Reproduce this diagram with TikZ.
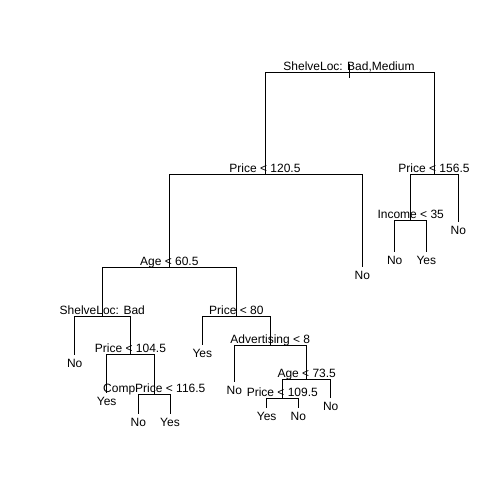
\documentclass[tikz,border=0pt]{standalone}
\usepackage{fontspec}
\setmainfont{Liberation Sans}

\begin{document}
\begin{tikzpicture}[x=1pt, y=-1pt, line width=0.9pt,
    font=\fontsize{12}{14}\selectfont,
    split/.style={anchor=base, inner sep=0pt, yshift=2pt},
    leaf/.style={anchor=base, inner sep=0pt, yshift=-12.8pt}]
  \useasboundingbox (0,0) rectangle (504,504);
  % splits
  \coordinate (stubtop) at (349, 64);
  \coordinate (stubend) at (349, 78.3);
  \coordinate (shelveMed) at (349, 72.3);
  \coordinate (price120) at (265, 174.3);
  \coordinate (price156) at (434, 174.3);
  \coordinate (income35) at (410.7, 220.3);
  \coordinate (age60) at (169.3, 267.3);
  \coordinate (shelveBad) at (102.3, 316.7);
  \coordinate (price104) at (130.5, 354.7);
  \coordinate (comp116) at (154.3, 394.3);
  \coordinate (price80) at (236.3, 316);
  \coordinate (advert8) at (270.3, 345.3);
  \coordinate (age73) at (306.7, 379.3);
  \coordinate (price109) at (282.3, 398.3);
  % leaves
  \coordinate (no120) at (362.3, 266.7);
  \coordinate (no156) at (458.3, 221.7);
  \coordinate (no35) at (394.7, 251.7);
  \coordinate (yes35) at (426.3, 251.7);
  \coordinate (noBad) at (74.7, 355);
  \coordinate (yes104) at (106.7, 393);
  \coordinate (noComp) at (138.3, 413.5);
  \coordinate (yesComp) at (170, 413.5);
  \coordinate (yes80) at (202.3, 345);
  \coordinate (noAdv) at (234.3, 382);
  \coordinate (no73) at (330.7, 398);
  \coordinate (yes109) at (266.7, 408);
  \coordinate (no109) at (298.3, 408);

  % branches
  \draw (stubtop) -- (stubend);
  \draw (shelveMed) -| (price120);
  \draw (shelveMed) -| (price156);
  \draw (price120) -| (age60);
  \draw (price120) -| (no120);
  \draw (price156) -| (income35);
  \draw (price156) -| (no156);
  \draw (income35) -| (no35);
  \draw (income35) -| (yes35);
  \draw (age60) -| (shelveBad);
  \draw (age60) -| (price80);
  \draw (shelveBad) -| (noBad);
  \draw (shelveBad) -| (price104);
  \draw (price104) -| (yes104);
  \draw (price104) -| (comp116);
  \draw (comp116) -| (noComp);
  \draw (comp116) -| (yesComp);
  \draw (price80) -| (yes80);
  \draw (price80) -| (advert8);
  \draw (advert8) -| (noAdv);
  \draw (advert8) -| (age73);
  \draw (age73) -| (price109);
  \draw (age73) -| (no73);
  \draw (price109) -| (yes109);
  \draw (price109) -| (no109);

  % split labels
  \node[split] (shelveMed-t) at (shelveMed) {ShelveLoc: Bad,Medium};
  \node[split] (price120-t) at (price120) {Price < 120.5};
  \node[split] (price156-t) at (price156) {Price < 156.5};
  \node[split] (income35-t) at (income35) {Income < 35};
  \node[split] (age60-t) at (age60) {Age < 60.5};
  \node[split] (shelveBad-t) at (shelveBad) {ShelveLoc: Bad};
  \node[split] (price104-t) at (price104) {Price < 104.5};
  \node[split] (comp116-t) at (comp116) {CompPrice < 116.5};
  \node[split] (price80-t) at (price80) {Price < 80};
  \node[split] (advert8-t) at (advert8) {Advertising < 8};
  \node[split] (age73-t) at (age73) {Age < 73.5};
  \node[split] (price109-t) at (price109) {Price < 109.5};
  % leaf labels
  \node[leaf] (no120-t) at (no120) {No};
  \node[leaf] (no156-t) at (no156) {No};
  \node[leaf] (no35-t) at (no35) {No};
  \node[leaf] (yes35-t) at (yes35) {Yes};
  \node[leaf] (noBad-t) at (noBad) {No};
  \node[leaf] (yes104-t) at (yes104) {Yes};
  \node[leaf] (noComp-t) at (noComp) {No};
  \node[leaf] (yesComp-t) at (yesComp) {Yes};
  \node[leaf] (yes80-t) at (yes80) {Yes};
  \node[leaf] (noAdv-t) at (noAdv) {No};
  \node[leaf] (no73-t) at (no73) {No};
  \node[leaf] (yes109-t) at (yes109) {Yes};
  \node[leaf] (no109-t) at (no109) {No};
\end{tikzpicture}
\end{document}
